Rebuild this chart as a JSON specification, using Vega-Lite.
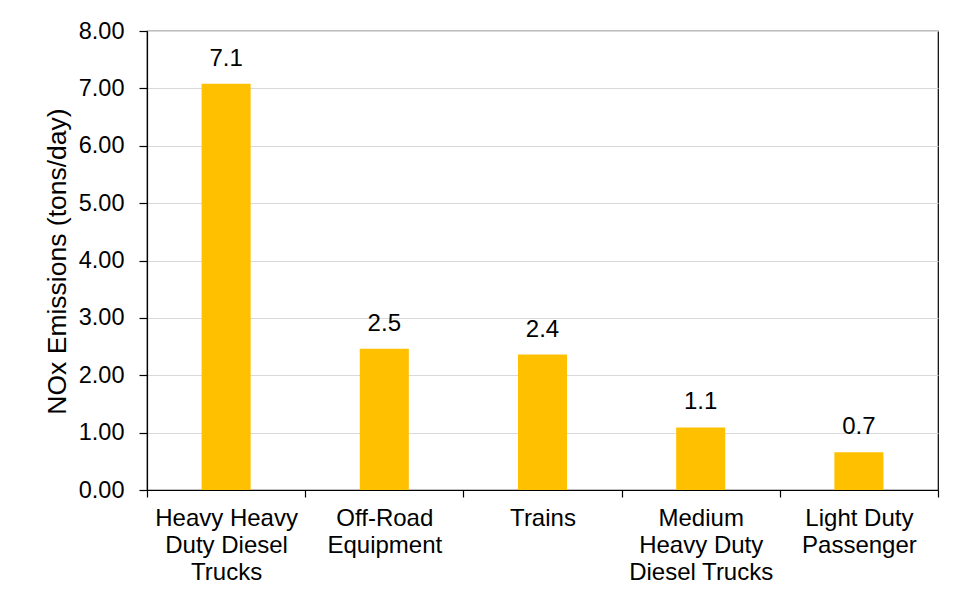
{
  "$schema": "https://vega.github.io/schema/vega-lite/v6.json",
  "width": 791,
  "height": 459,
  "autosize": {"type": "none"},
  "padding": {"left": 147, "top": 31, "right": 18, "bottom": 112},
  "background": "white",
  "config": {
    "font": "Liberation Sans",
    "view": {"stroke": "black", "strokeWidth": 1.2},
    "axis": {"domainColor": "black", "tickColor": "black", "labelColor": "black", "titleColor": "black", "labelFont": "Liberation Sans", "titleFont": "Liberation Sans"}
  },
  "data": {
    "values": [
      {"category": "Heavy Heavy Duty Diesel Trucks", "value": 7.08, "label": "7.1"},
      {"category": "Off-Road Equipment", "value": 2.46, "label": "2.5"},
      {"category": "Trains", "value": 2.36, "label": "2.4"},
      {"category": "Medium Heavy Duty Diesel Trucks", "value": 1.09, "label": "1.1"},
      {"category": "Light Duty Passenger", "value": 0.66, "label": "0.7"}
    ]
  },
  "encoding": {
    "x": {
      "field": "category",
      "type": "nominal",
      "sort": null,
      "scale": {"paddingInner": 0, "paddingOuter": 0},
      "axis": {
        "title": null,
        "labelAngle": 0,
        "labelFontSize": 24,
        "labelLineHeight": 27,
        "labelBaseline": "top",
        "labelPadding": 9,
        "tickSize": 7,
        "tickWidth": 1.2,
        "domainWidth": 1.2,
        "tickBand": "extent",
        "grid": false,
        "labelExpr": "datum.value == 'Heavy Heavy Duty Diesel Trucks' ? ['Heavy Heavy', 'Duty Diesel', 'Trucks'] : datum.value == 'Off-Road Equipment' ? ['Off-Road', 'Equipment'] : datum.value == 'Medium Heavy Duty Diesel Trucks' ? ['Medium', 'Heavy Duty', 'Diesel Trucks'] : datum.value == 'Light Duty Passenger' ? ['Light Duty', 'Passenger'] : datum.value"
      }
    },
    "y": {
      "field": "value",
      "type": "quantitative",
      "scale": {"domain": [0, 8]},
      "axis": {
        "title": "NOx Emissions (tons/day)",
        "titleFontSize": 26.5,
        "titleFontWeight": "normal",
        "titleX": -90,
        "titleY": 230,
        "titleAngle": -90,
        "titleBaseline": "middle",
        "titleAlign": "center",
        "values": [0, 1, 2, 3, 4, 5, 6, 7, 8],
        "format": ".2f",
        "labelFontSize": 23.5,
        "labelPadding": 15,
        "tickSize": 8,
        "tickWidth": 1.2,
        "domainWidth": 1.2,
        "gridColor": "#d9d9d9",
        "gridWidth": 1.2
      }
    }
  },
  "layer": [
    {
      "mark": {"type": "bar", "color": "#FFC000", "width": {"band": 0.31}}
    },
    {
      "mark": {"type": "text", "fontSize": 24, "baseline": "middle", "dy": -25, "color": "black"},
      "encoding": {"text": {"field": "label"}}
    }
  ]
}
